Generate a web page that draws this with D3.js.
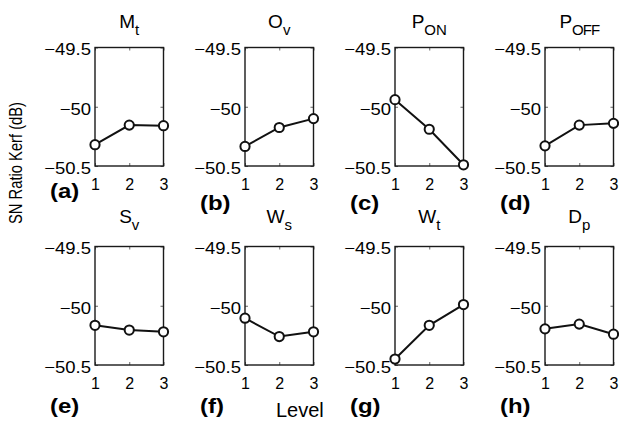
<!DOCTYPE html>
<html>
<head>
<meta charset="utf-8">
<script src="https://cdn.jsdelivr.net/npm/d3@7"></script>
<style>
  body { margin: 0; background: #fff; }
  svg text { font-family: "Liberation Sans", Arial, Helvetica, sans-serif; fill: #000; }
</style>
</head>
<body>
<svg id="chart" width="619" height="426"></svg>
<script>
// factor levels on the x axis
const levels = [1, 2, 3];

// panel titles: main letter + subscript
const factorNames = ["M", "O", "P", "P", "S", "W", "W", "D"];
const factorSubs  = ["t", "v", "ON", "OFF", "v", "s", "t", "p"];
const panelTags   = ["(a)", "(b)", "(c)", "(d)", "(e)", "(f)", "(g)", "(h)"];

// SN ratio kerf (dB) per factor, for levels 1..3
const snRatio = [
	[-50.32, -50.155, -50.16],
	[-50.335, -50.175, -50.10],
	[-49.94, -50.19, -50.49],
	[-50.33, -50.155, -50.14],
	[-50.165, -50.205, -50.22],
	[-50.105, -50.26, -50.22],
	[-50.45, -50.165, -49.99],
	[-50.195, -50.155, -50.24]
];

const yTicks = [-50.5, -50, -49.5];
const yTickLabels = ["\u221250.5", "\u221250", "\u221249.5"];
const yLabel = "SN Ratio Kerf (dB)";
const xLabel = "Level";

// layout
const COL0 = 95, COL_STEP = 150;
const ROW_TOP = [47.5, 246.5];
const BOX_W = 68.5, BOX_H = 118.5;
const TITLE_BASE = [28, 223];
const TAG_BASE = [210, 413];
const TICK = 3;

var svg = d3.select("#chart");

var x = d3.scaleLinear().domain([1, 3]).range([0, BOX_W]);
var y = d3.scaleLinear().domain([-50.5, -49.5]).range([BOX_H, 0]);

var line = d3.line()
	.x(function(d, i) { return x(levels[i]); })
	.y(function(d) { return y(d); });

snRatio.forEach(function(vals, i) {
	var row = Math.floor(i / 4), col = i % 4;
	var left = COL0 + col * COL_STEP,
		top = ROW_TOP[row];

	var g = svg.append("g")
		.attr("transform", "translate(" + left + "," + top + ")");

	// inner ticks on all four sides, labels only left/bottom
	var yFmt = function(d) { return yTickLabels[yTicks.indexOf(d)]; };
	g.append("g")
		.call(d3.axisLeft(y).tickValues(yTicks).tickFormat(yFmt).tickSize(-TICK).tickPadding(4))
		.call(styleAxis)
		.selectAll("text")
			.attr("font-size", 16.5)
			.attr("dy", "0.45em")
			.call(stretch, 1.12);
	g.append("g")
		.attr("transform", "translate(" + BOX_W + ",0)")
		.call(d3.axisRight(y).tickValues(yTicks).tickFormat("").tickSize(-TICK))
		.call(styleAxis);
	g.append("g")
		.attr("transform", "translate(0," + BOX_H + ")")
		.call(d3.axisBottom(x).tickValues(levels).tickFormat(d3.format("d")).tickSize(-TICK).tickPadding(12.5))
		.call(styleAxis)
		.selectAll("text").attr("font-size", 16);
	g.append("g")
		.call(d3.axisTop(x).tickValues(levels).tickFormat("").tickSize(-TICK))
		.call(styleAxis);

	// box
	g.append("rect")
		.attr("width", BOX_W)
		.attr("height", BOX_H)
		.attr("fill", "none")
		.attr("stroke", "#1a1a1a")
		.attr("stroke-width", 1.4);

	// data line + open circle markers
	g.append("path")
		.datum(vals)
		.attr("d", line)
		.attr("fill", "none")
		.attr("stroke", "#111")
		.attr("stroke-width", 2);
	g.selectAll(".dot")
		.data(vals)
	  .enter().append("circle")
		.attr("class", "dot")
		.attr("cx", function(d, j) { return x(levels[j]); })
		.attr("cy", function(d) { return y(d); })
		.attr("r", 4.6)
		.attr("fill", "#fff")
		.attr("stroke", "#111")
		.attr("stroke-width", 2);

	// title with subscript
	var t = svg.append("text")
		.attr("x", left + BOX_W / 2)
		.attr("y", TITLE_BASE[row])
		.attr("text-anchor", "middle")
		.attr("font-size", 19);
	t.append("tspan").text(factorNames[i]);
	t.append("tspan")
		.attr("font-size", 15)
		.attr("dy", 6.5)
		.attr("letter-spacing", factorSubs[i] == "OFF" ? -1 : 0)
		.text(factorSubs[i]);

	// panel tag
	svg.append("text")
		.attr("x", left - 45)
		.attr("y", TAG_BASE[row] - (i == 0 ? 12 : 0))
		.attr("font-size", 21)
		.attr("font-weight", "bold")
		.text(panelTags[i])
		.call(stretch, 1.14);
});

function styleAxis(sel) {
	sel.select(".domain").remove();
	sel.selectAll("line").attr("stroke", "#666").attr("stroke-width", 1);
	sel.attr("font-family", null);
}

// the reference text is a bit wider than plain Arial, stretch it sideways
function stretch(sel, k) {
	sel.each(function() {
		var w = this.getComputedTextLength();
		if (w > 0) {
			this.setAttribute("textLength", w * k);
			this.setAttribute("lengthAdjust", "spacingAndGlyphs");
		}
	});
}

// shared axis labels
svg.append("text")
	.attr("transform", "translate(22,163) rotate(-90)")
	.attr("text-anchor", "middle")
	.attr("font-size", 18.5)
	.attr("textLength", 122)
	.attr("lengthAdjust", "spacingAndGlyphs")
	.text(yLabel);

svg.append("text")
	.attr("x", 276)
	.attr("y", 417)
	.attr("font-size", 20)
	.text(xLabel);
</script>
</body>
</html>
